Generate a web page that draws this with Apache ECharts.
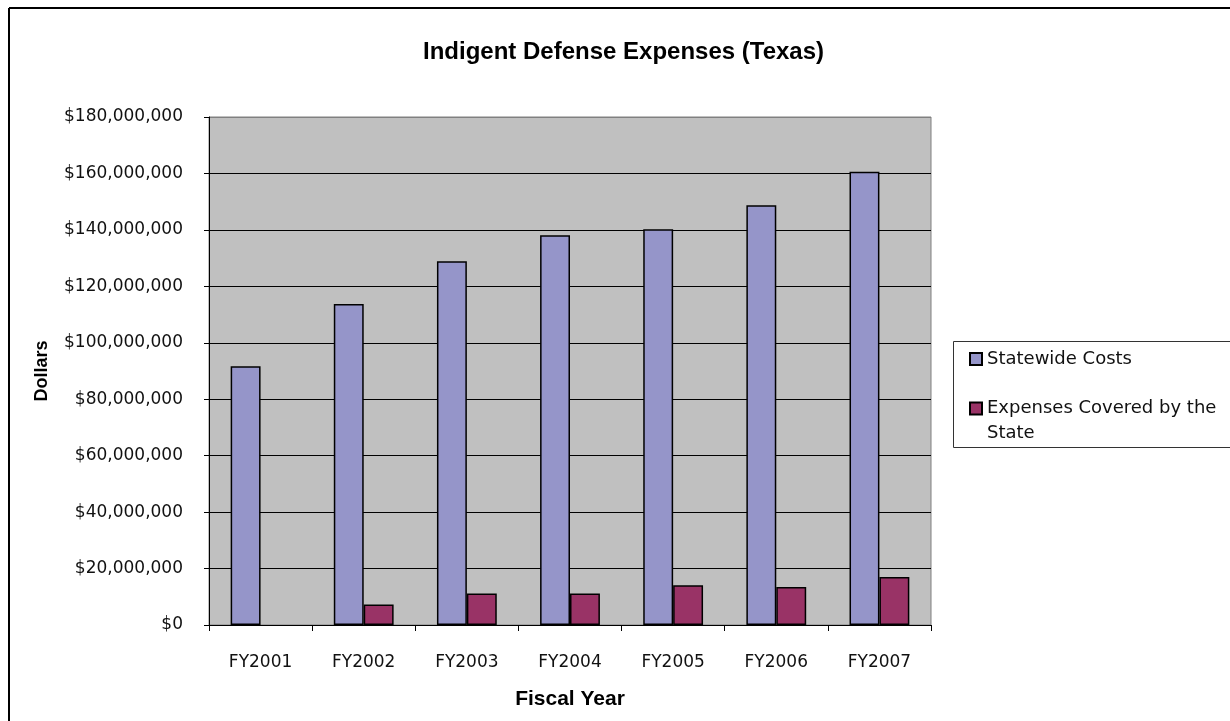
<!DOCTYPE html>
<html>
<head>
<meta charset="utf-8">
<script src="https://cdn.jsdelivr.net/npm/echarts@6/dist/echarts.min.js"></script>
<style>html,body{margin:0;padding:0;background:#fff}#c{width:1230px;height:721px}</style>
</head>
<body>
<div id="c"></div>
<script>
var categories = ['FY2001','FY2002','FY2003','FY2004','FY2005','FY2006','FY2007'];
var statewideCosts = [91700000, 113700000, 128900000, 138100000, 140200000, 148700000, 160600000];
var stateCovered = [null, 7300000, 11200000, 11200000, 14100000, 13500000, 17000000];
var seriesNames = ['Statewide Costs', 'Expenses Covered by the State'];

function money(v){
  return '$' + String(Math.round(v)).replace(/\B(?=(\d{3})+(?!\d))/g, ',');
}

var chart = echarts.init(document.getElementById('c'), null, {renderer:'canvas'});
var BFONT = '"Liberation Sans", Arial, sans-serif';
var FONT = '"DejaVu Sans", sans-serif';
var gridColors = ['#000','#000','#000','#000','#000','#000','#000','#000','#000','#808080'];
chart.setOption({
  animation: false,
  backgroundColor: '#ffffff',
  title: {
    text: 'Indigent Defense Expenses (Texas)',
    left: 418, top: 35,
    textStyle: {fontFamily: BFONT, fontSize: 24, fontWeight: 'bold', color: '#000'}
  },
  grid: {left: 209, top: 117, width: 722, height: 508, show: true, backgroundColor: '#C0C0C0', borderColor: '#808080', borderWidth: 1},
  legend: [{
    orient: 'vertical', left: 969, top: 348, padding: 0,
    itemWidth: 12, itemHeight: 12,
    icon: 'rect',
    textStyle: {fontFamily: FONT, fontSize: 18, color: '#111', lineHeight: 22},
    data: [seriesNames[0]]
  }, {
    orient: 'vertical', left: 969, top: 371, padding: 0,
    itemWidth: 12, itemHeight: 12,
    icon: 'rect',
    textStyle: {fontFamily: FONT, fontSize: 18, color: '#111', lineHeight: 25},
    formatter: function(n){ return '\nExpenses Covered by the\nState'; },
    data: [seriesNames[1]]
  }],
  xAxis: {
    type: 'category', data: categories,
    name: 'Fiscal Year', nameLocation: 'middle', nameGap: 64,
    nameTextStyle: {fontFamily: BFONT, fontSize: 21, fontWeight: 'bold', color: '#000'},
    axisLine: {lineStyle: {color: '#000', width: 1}},
    axisTick: {show: true, length: 6, lineStyle: {color: '#000'}},
    axisLabel: {fontFamily: FONT, fontSize: 17, color: '#111', margin: 29}
  },
  yAxis: {
    type: 'value', min: 0, max: 180000000, interval: 20000000,
    name: 'Dollars', nameLocation: 'middle', nameGap: 158, nameRotate: 90,
    nameTextStyle: {fontFamily: BFONT, fontSize: 18, fontWeight: 'bold', color: '#000'},
    axisLine: {show: true, lineStyle: {color: '#000', width: 1}},
    axisTick: {show: true, length: 5, lineStyle: {color: '#000'}},
    axisLabel: {fontFamily: FONT, fontSize: 17, color: '#111', margin: 26, formatter: money},
    splitLine: {show: true, lineStyle: {color: gridColors, width: 1}}
  },
  series: [
    {name: seriesNames[0], type: 'bar', data: statewideCosts, barGap: '0%', barCategoryGap: '42%',
     itemStyle: {color: '#9595C9', borderColor: '#000', borderWidth: 1.5}},
    {name: seriesNames[1], type: 'bar', data: stateCovered,
     itemStyle: {color: '#993366', borderColor: '#000', borderWidth: 1.5}}
  ],
  graphic: [
    {type: 'line', shape: {x1: 9, y1: 8, x2: 1230, y2: 8}, style: {stroke: '#000', lineWidth: 2}, silent: true},
    {type: 'line', shape: {x1: 9, y1: 8, x2: 9, y2: 721}, style: {stroke: '#000', lineWidth: 2}, silent: true},
    {type: 'rect', shape: {x: 953.5, y: 341.5, width: 300, height: 106}, style: {fill: 'none', stroke: '#333', lineWidth: 1}, silent: true, z: -1}
  ]
});
</script>
</body>
</html>
